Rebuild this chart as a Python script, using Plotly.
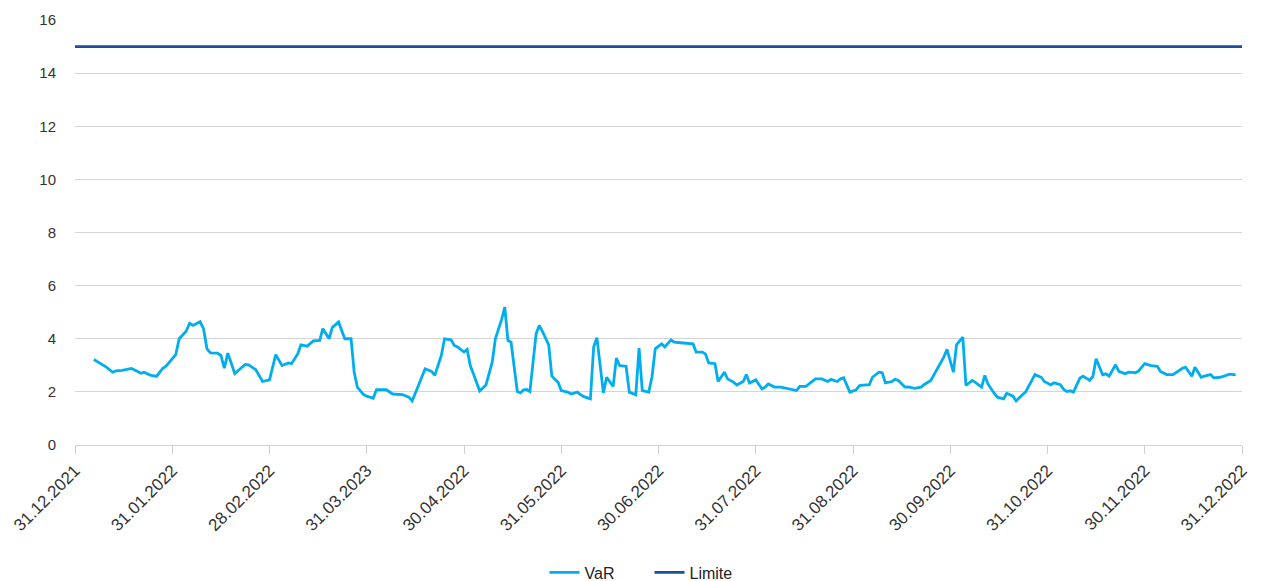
import calendar
import datetime as dt
import plotly.graph_objects as go

# ---- data -------------------------------------------------------------
tick_labels = ["31.12.2021", "31.01.2022", "28.02.2022", "31.03.2023", "30.04.2022",
               "31.05.2022", "30.06.2022", "31.07.2022", "31.08.2022", "30.09.2022",
               "31.10.2022", "30.11.2022", "31.12.2022"]

var_dates = [
    "2022-01-06", "2022-01-08", "2022-01-10", "2022-01-12", "2022-01-13", "2022-01-15",
    "2022-01-17", "2022-01-18", "2022-01-19", "2022-01-21", "2022-01-22", "2022-01-24",
    "2022-01-26", "2022-01-28", "2022-01-29",
    "2022-02-01", "2022-02-02", "2022-02-04", "2022-02-05", "2022-02-06", "2022-02-08",
    "2022-02-09", "2022-02-10", "2022-02-11", "2022-02-13", "2022-02-14", "2022-02-15",
    "2022-02-16", "2022-02-18", "2022-02-19", "2022-02-21", "2022-02-22", "2022-02-23",
    "2022-02-24", "2022-02-26", "2022-02-27", "2022-02-28",
    "2022-03-02", "2022-03-03", "2022-03-04", "2022-03-06", "2022-03-07", "2022-03-09",
    "2022-03-10", "2022-03-12", "2022-03-13", "2022-03-14", "2022-03-16", "2022-03-17",
    "2022-03-19", "2022-03-20", "2022-03-22", "2022-03-23", "2022-03-24", "2022-03-26",
    "2022-03-27", "2022-03-28", "2022-03-30", "2022-03-31",
    "2022-04-02", "2022-04-03", "2022-04-05", "2022-04-06", "2022-04-08", "2022-04-09",
    "2022-04-11", "2022-04-13", "2022-04-14", "2022-04-16", "2022-04-18", "2022-04-20",
    "2022-04-21", "2022-04-23", "2022-04-24", "2022-04-26", "2022-04-27", "2022-04-28",
    "2022-04-30",
    "2022-05-01", "2022-05-02", "2022-05-03", "2022-05-05", "2022-05-07", "2022-05-09",
    "2022-05-10", "2022-05-12", "2022-05-13", "2022-05-14", "2022-05-15", "2022-05-17",
    "2022-05-18", "2022-05-19", "2022-05-20", "2022-05-21", "2022-05-23", "2022-05-24",
    "2022-05-25", "2022-05-27", "2022-05-28", "2022-05-30", "2022-05-31",
    "2022-06-02", "2022-06-03", "2022-06-05", "2022-06-06", "2022-06-07", "2022-06-09",
    "2022-06-10", "2022-06-11", "2022-06-13", "2022-06-14", "2022-06-16", "2022-06-17",
    "2022-06-18", "2022-06-20", "2022-06-21", "2022-06-23", "2022-06-24", "2022-06-25",
    "2022-06-27", "2022-06-28", "2022-06-29",
    "2022-07-01", "2022-07-02", "2022-07-04", "2022-07-05", "2022-07-07", "2022-07-09",
    "2022-07-11", "2022-07-12", "2022-07-14", "2022-07-15", "2022-07-16", "2022-07-18",
    "2022-07-19", "2022-07-21", "2022-07-22", "2022-07-24", "2022-07-25", "2022-07-27",
    "2022-07-28", "2022-07-29", "2022-07-31",
    "2022-08-02", "2022-08-03", "2022-08-04", "2022-08-06", "2022-08-08", "2022-08-09",
    "2022-08-11", "2022-08-13", "2022-08-14", "2022-08-16", "2022-08-19", "2022-08-21",
    "2022-08-23", "2022-08-24", "2022-08-26", "2022-08-27", "2022-08-28", "2022-08-30",
    "2022-09-01", "2022-09-02", "2022-09-04", "2022-09-05", "2022-09-06", "2022-09-08",
    "2022-09-09", "2022-09-10", "2022-09-12", "2022-09-13", "2022-09-14", "2022-09-16",
    "2022-09-17", "2022-09-19", "2022-09-21", "2022-09-22", "2022-09-24", "2022-09-25",
    "2022-09-27", "2022-09-28", "2022-09-29",
    "2022-10-01", "2022-10-02", "2022-10-04", "2022-10-05", "2022-10-07", "2022-10-08",
    "2022-10-10", "2022-10-11", "2022-10-12", "2022-10-14", "2022-10-15", "2022-10-17",
    "2022-10-18", "2022-10-20", "2022-10-21", "2022-10-23", "2022-10-24", "2022-10-26",
    "2022-10-27", "2022-10-29", "2022-10-30",
    "2022-11-01", "2022-11-02", "2022-11-04", "2022-11-05", "2022-11-06", "2022-11-07",
    "2022-11-08", "2022-11-10", "2022-11-11", "2022-11-13", "2022-11-14", "2022-11-15",
    "2022-11-17", "2022-11-18", "2022-11-19", "2022-11-21", "2022-11-22", "2022-11-24",
    "2022-11-25", "2022-11-27", "2022-11-28", "2022-11-30",
    "2022-12-02", "2022-12-04", "2022-12-05", "2022-12-07", "2022-12-09", "2022-12-10",
    "2022-12-12", "2022-12-13", "2022-12-15", "2022-12-16", "2022-12-18", "2022-12-19",
    "2022-12-21", "2022-12-22", "2022-12-24", "2022-12-26", "2022-12-27", "2022-12-29",
]

var_values = [
    3.22, 3.08, 2.93, 2.74, 2.79, 2.81,
    2.84, 2.88, 2.82, 2.70, 2.74, 2.63,
    2.58, 2.89, 2.97,
    3.40, 4.00, 4.28, 4.58, 4.50, 4.64,
    4.38, 3.62, 3.47, 3.46, 3.37, 2.89,
    3.46, 2.69, 2.81, 3.03, 3.02, 2.93,
    2.84, 2.39, 2.43, 2.45,
    3.40, 3.18, 2.99, 3.09, 3.06, 3.43,
    3.77, 3.72, 3.81, 3.92, 3.94, 4.38,
    4.00, 4.42, 4.63, 4.31, 4.00, 4.00,
    2.74, 2.18, 1.90, 1.84,
    1.76, 2.08, 2.08, 2.08, 1.92, 1.92,
    1.90, 1.80, 1.66, 2.26, 2.87, 2.77,
    2.62, 3.37, 4.00, 3.96, 3.75, 3.69,
    3.50,
    3.60, 2.99, 2.68, 2.03, 2.26, 3.12,
    4.00, 4.73, 5.19, 3.94, 3.87, 2.01,
    1.96, 2.08, 2.09, 2.01, 4.19, 4.50,
    4.28, 3.77, 2.59, 2.36, 2.05,
    1.99, 1.92, 1.99, 1.89, 1.82, 1.74,
    3.69, 4.04, 1.96, 2.55, 2.20, 3.27,
    2.99, 2.96, 1.99, 1.89, 3.65, 2.05,
    1.99, 2.58, 3.62,
    3.81, 3.69, 3.96, 3.87, 3.85, 3.84,
    3.81, 3.50, 3.50, 3.42, 3.09, 3.06,
    2.39, 2.74, 2.49, 2.36, 2.26, 2.39,
    2.65, 2.33, 2.45,
    2.11, 2.18, 2.30, 2.18, 2.18, 2.16,
    2.10, 2.05, 2.21, 2.21, 2.49, 2.49,
    2.39, 2.47, 2.39, 2.49, 2.53, 1.99,
    2.08, 2.24, 2.26, 2.26, 2.55, 2.74,
    2.72, 2.34, 2.39, 2.47, 2.43, 2.18,
    2.19, 2.13, 2.18, 2.28, 2.43, 2.64,
    3.06, 3.31, 3.60,
    2.74, 3.77, 4.06, 2.24, 2.43, 2.36,
    2.18, 2.62, 2.30, 1.95, 1.80, 1.74,
    1.95, 1.84, 1.66, 1.89, 1.99, 2.43,
    2.65, 2.55, 2.39,
    2.26, 2.34, 2.27, 2.09, 2.01, 2.04,
    1.99, 2.52, 2.59, 2.43, 2.58, 3.25,
    2.64, 2.68, 2.59, 3.02, 2.77, 2.68,
    2.74, 2.72, 2.77, 3.06,
    2.99, 2.96, 2.77, 2.65, 2.65, 2.74,
    2.89, 2.93, 2.59, 2.93, 2.55, 2.59,
    2.65, 2.53, 2.55, 2.62, 2.67, 2.64,
]

limit_value = 15
series_names = ["VaR", "Limite"]


# ---- month-based category scale (each month has equal width) -----------
def month_pos(s):
    d = dt.date.fromisoformat(s)
    return (d.month - 1) + d.day / calendar.monthrange(d.year, d.month)[1]


x_var = [month_pos(s) for s in var_dates]
tick_pos = list(range(len(tick_labels)))

FONT = "Liberation Sans, Arial, sans-serif"
fig = go.Figure()
fig.add_trace(go.Scatter(x=x_var, y=var_values, mode="lines", name=series_names[0],
                         line=dict(color="#00AEEF", width=2.8)))
fig.add_trace(go.Scatter(x=[tick_pos[0], tick_pos[-1]], y=[limit_value, limit_value],
                         mode="lines", name=series_names[1],
                         line=dict(color="#1B4F9C", width=2.8)))

fig.update_layout(
    width=1252, height=581,
    margin=dict(l=67, r=18, t=12, b=144, autoexpand=False),
    paper_bgcolor="white", plot_bgcolor="white",
    font=dict(family=FONT, size=15, color="#333333"),
    showlegend=True,
    legend=dict(orientation="h", x=0.4923, xanchor="center", y=-0.30, yanchor="middle",
                entrywidth=60, entrywidthmode="pixels",
                font=dict(size=16, color="#222222")),
    xaxis=dict(range=[0, 12], tickmode="array", tickvals=tick_pos, ticktext=tick_labels,
               tickangle=-45, showgrid=False, zeroline=False,
               showline=True, linecolor="#d0d0d0", linewidth=1,
               ticks="outside", ticklen=8, tickcolor="#d0d0d0",
               tickfont=dict(size=17, color="#333333")),
    yaxis=dict(range=[0, 16], dtick=2, showgrid=True, gridcolor="#d5d5d5", gridwidth=1,
               zeroline=False, showline=False, ticks="", ticklabelstandoff=18,
               tickfont=dict(size=15, color="#333333")),
)

fig.write_html("out.html")
